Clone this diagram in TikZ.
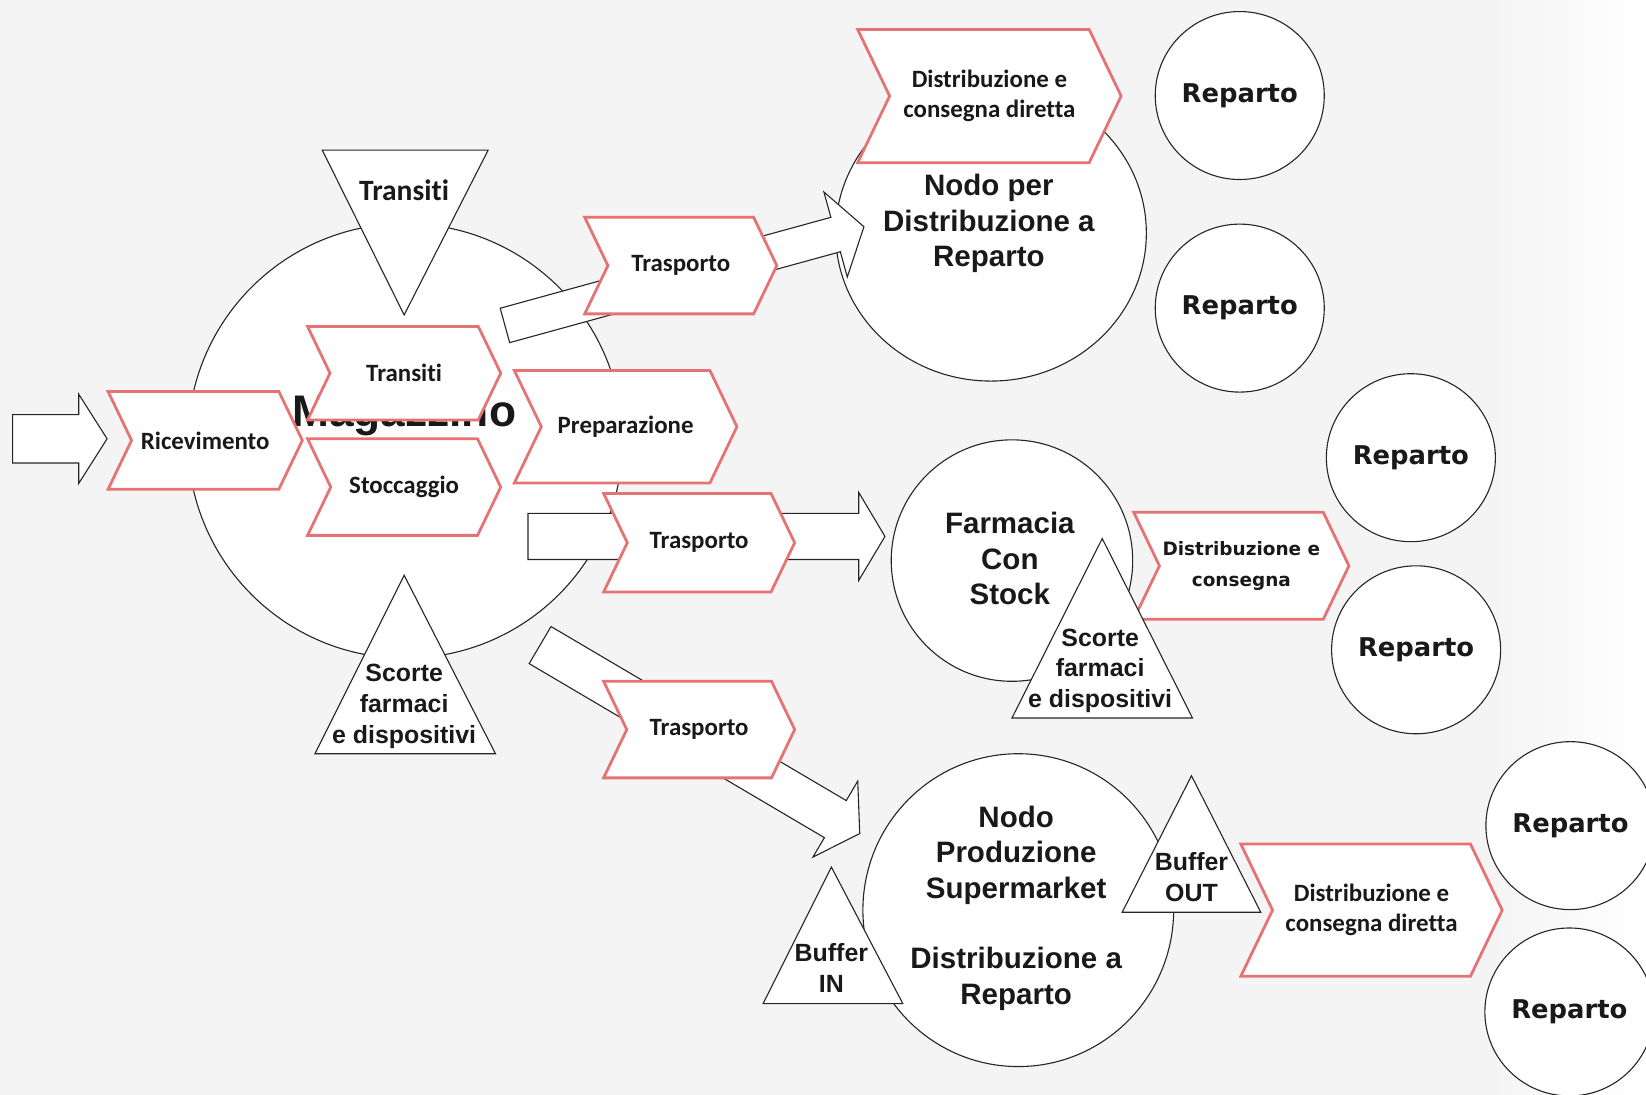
\documentclass[tikz,border=0pt]{standalone}
\usepackage{fontspec}
\setmainfont{Liberation Sans}
\newfontfamily\calibrifont[Ligatures={NoCommon,NoRequired,NoContextual}]{Carlito}
\newfontfamily\verdanafont{DejaVu Sans}
\usepackage{tikz}
\usetikzlibrary{calc, shapes.geometric}
\definecolor{chevred}{HTML}{E57373}
\definecolor{bggray}{HTML}{F4F4F4}

\newcommand{\chevfont}{\calibrifont\bfseries\fontsize{13.5}{16.5}\selectfont}
\newcommand{\trifont}{\calibrifont\bfseries\fontsize{16}{19}\selectfont}
\newcommand{\ellfont}{\bfseries\fontsize{16}{19.2}\selectfont}
\newcommand{\stockfont}{\bfseries\fontsize{13.5}{16.7}\selectfont}
\newcommand{\repfont}{\verdanafont\bfseries\fontsize{14}{17}\selectfont}
\newcommand{\consfont}{\verdanafont\bfseries\fontsize{10}{16.5}\selectfont}
\newcommand{\magfont}{\bfseries\fontsize{24}{28}\selectfont}

% chevron: [text style] name, centre x, centre y, width, height, text
\newcommand{\chevron}[7][chevtext]{%
  \draw[chev] ({#3-#5/2},{#4-#6/2}) -- ({#3+#5/2-0.24*#6},{#4-#6/2})
    -- ({#3+#5/2},#4) -- ({#3+#5/2-0.24*#6},{#4+#6/2})
    -- ({#3-#5/2},{#4+#6/2}) -- ({#3-#5/2+0.24*#6},#4) -- cycle;
  \node[#1] (#2) at (#3,#4) {#7};}

% block arrow: from, to, shaft half width, head half width, head length
\newcommand{\blockarrow}[5]{%
  \coordinate (#1hb) at ($(#2)!#5!(#1)$);
  \draw[outline] ($(#1)!#3!90:(#2)$) -- ($(#1hb)!#3!90:(#2)$)
    -- ($(#1hb)!#4!90:(#2)$) -- (#2) -- ($(#1hb)!#4!-90:(#2)$)
    -- ($(#1hb)!#3!-90:(#2)$) -- ($(#1)!#3!-90:(#2)$) -- cycle;}

\begin{document}
\begin{tikzpicture}[x=0.2mm, y=-0.2mm,
  outline/.style={draw=black!85, line width=0.6pt, fill=white},
  chev/.style={draw=chevred, line width=1.5pt, fill=white},
  chevtext/.style={font=\chevfont, text=black!90, align=center, inner sep=0pt},
  constext/.style={font=\consfont, text=black!90, align=center, inner sep=0pt},
  elltext/.style={font=\ellfont, text=black!90, align=center, inner sep=0pt},
  stocktext/.style={font=\stockfont, text=black!90, align=center, inner sep=0pt},
  ell/.style={outline, ellipse, inner sep=0pt},
  rep/.style={ell, font=\repfont, text=black!90, minimum width=32.2mm, minimum height=32mm}]

  % background
  \fill[bggray] (0,0) rectangle (1568,1043);
  \shade[left color=bggray, right color=white] (1420,0) rectangle (1568,1043);
  \useasboundingbox (0,0) rectangle (1568,1043);

  % Magazzino
  \node[outline, circle, minimum size=82.8mm, inner sep=0pt] (mag) at (386,420) {};
  \node[font=\magfont, text=black!90, inner sep=0pt, anchor=base] (magtxt) at (385,406) {Magazzino};
  \draw[outline] (307,143) -- (465,143) -- (385,300) -- cycle;
  \node[font=\trifont, text=black!90, inner sep=0pt] (transtri) at (385,181) {Transiti};
  \draw[outline] (385,548) -- (472,718) -- (300,718) -- cycle;
  \node[stocktext] (scorte1) at (385,673) {Scorte\\farmaci\\e dispositivi};

  % incoming flow and internal steps
  \coordinate (inS) at (12,418);
  \coordinate (inT) at (102,418);
  \blockarrow{inS}{inT}{4.6mm}{8.5mm}{5.4mm}
  \chevron{ric}{195.5}{419.5}{185}{93}{Ricevimento}
  \chevron{trans}{385}{355.5}{184}{89}{Transiti}
  \chevron{stocc}{385}{464}{184}{92}{Stoccaggio}
  \chevron{prep}{596}{406.5}{212}{107}{Preparazione}

  % destination nodes
  \node[ell, minimum width=59.2mm, minimum height=56.4mm] (nodoRep) at (944,222) {};
  \node[elltext] (nodoRepTxt) at (942,213) {Nodo per\\Distribuzione a\\Reparto};
  \node[ell, minimum width=46mm, minimum height=46mm] (farm) at (964,534) {};
  \node[elltext] (farmTxt) at (962,532) {Farmacia\\Con\\Stock};
  \node[ell, minimum width=59.2mm, minimum height=59.6mm] (prod) at (970,867) {};
  \node[elltext] (prodTxt) at (968,865) {Nodo\\Produzione\\Supermarket\\[19pt]Distribuzione a\\Reparto};

  % transport
  \coordinate (tS1) at (481,310);
  \coordinate (tT1) at (823,216);
  \blockarrow{tS1}{tT1}{3.4mm}{8.4mm}{5.6mm}
  \coordinate (tS2) at (503,511);
  \coordinate (tT2) at (843,511);
  \blockarrow{tS2}{tT2}{4.4mm}{8.4mm}{5mm}
  \coordinate (tS3) at (514.5,614.5);
  \coordinate (tT3) at (819,794);
  \blockarrow{tS3}{tT3}{4.1mm}{8.4mm}{5.4mm}
  \chevron{trasp1}{648.5}{253}{183}{92}{Trasporto}
  \chevron{trasp2}{666}{517}{182}{94}{Trasporto}
  \chevron{trasp3}{666}{695}{182}{92}{Trasporto}

  % distribution to the wards
  \chevron{dist1}{942.5}{91.5}{251}{127}{Distribuzione e\\consegna diretta}
  \node[rep] (rep1) at (1181,91) {Reparto};
  \node[rep] (rep2) at (1181,293.5) {Reparto};

  \chevron[constext]{dist2}{1182.5}{539}{205}{102}{Distribuzione e\\consegna}
  \draw[outline] (1050,513) -- (1136,684) -- (964,684) -- cycle;
  \node[stocktext] (scorte2) at (1048,639) {Scorte\\farmaci\\e dispositivi};
  \node[rep] (rep3) at (1344,436) {Reparto};
  \node[rep] (rep4) at (1349,619) {Reparto};

  \draw[outline] (792,826) -- (860,956) -- (727,956) -- cycle;
  \node[stocktext] (bufIn) at (792,922) {Buffer\\IN};
  \draw[outline] (1135,739) -- (1201,869) -- (1069,869) -- cycle;
  \node[stocktext] (bufOut) at (1135,835.5) {Buffer\\OUT};
  \chevron{dist3}{1306.5}{867}{249}{126}{Distribuzione e\\consegna diretta}
  \node[rep] (rep5) at (1496,786.5) {Reparto};
  \node[rep] (rep6) at (1495,964) {Reparto};
\end{tikzpicture}
\end{document}
